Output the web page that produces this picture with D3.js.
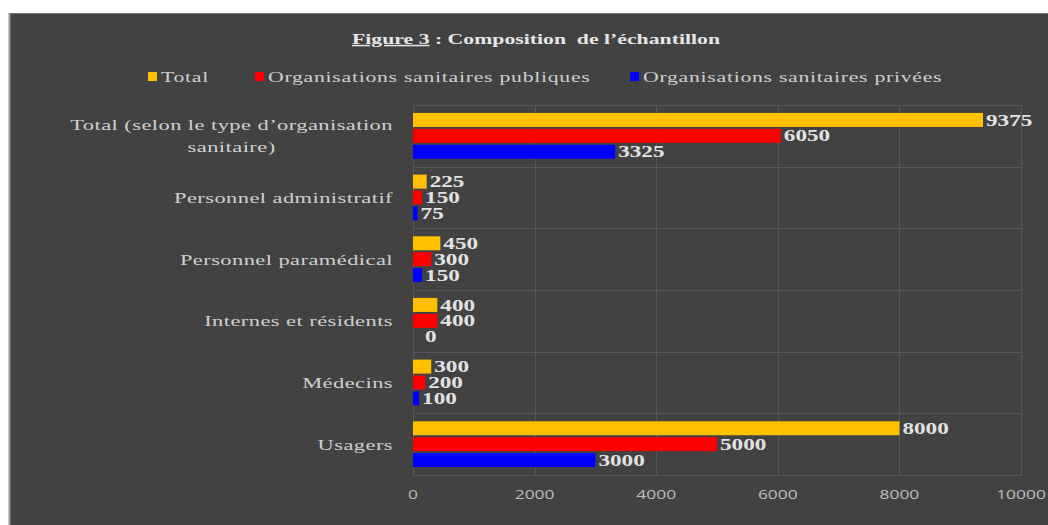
<!DOCTYPE html>
<html>
<head>
<meta charset="utf-8">
<title>Composition de l'échantillon</title>
<script src="https://cdn.jsdelivr.net/npm/d3@7"></script>
<style>
  body { margin: 0; background: #fff; }
  .serif { font-family: "Liberation Serif", "DejaVu Serif", serif; }
  .tick-label { font-family: "Open Sans", "Liberation Sans", sans-serif; font-size: 12px; fill: #bdbdbd; }
</style>
</head>
<body>
<script>
// données
var categories = ["Total (selon le type d’organisation sanitaire)", "Personnel administratif",
                  "Personnel paramédical", "Internes et résidents", "Médecins", "Usagers"];
var seriesNames = ["Total", "Organisations sanitaires publiques", "Organisations sanitaires privées"];
var totalValues = [9375, 225, 450, 400, 300, 8000];
var publicValues = [6050, 150, 300, 400, 200, 5000];
var privateValues = [3325, 75, 150, 0, 100, 3000];
var xTicks = [0, 2000, 4000, 6000, 8000, 10000];
var colors = ["#FFC000", "#FF0000", "#0000FF"];

var width = 1048, height = 525;
var stretch = 1.45;   // le texte de l'image est étiré horizontalement
var margin = {left: 413, right: 27, top: 105, bottom: 50};

var svg = d3.select("body").append("svg")
    .attr("width", width)
    .attr("height", height);

// fond du graphique
svg.append("rect").attr("x", 9).attr("y", 13).attr("width", width - 9).attr("height", height - 13)
    .attr("fill", "#424242");
svg.append("line").attr("x1", 9.5).attr("x2", 9.5).attr("y1", 13).attr("y2", height)
    .attr("stroke", "#9a9a9a").attr("stroke-width", 2);
svg.append("line").attr("x1", 9).attr("x2", width).attr("y1", 13.5).attr("y2", 13.5)
    .attr("stroke", "#777").attr("stroke-width", 1);

var series = [totalValues, publicValues, privateValues];
var rows = categories.map(function(c, i) {
    return {name: c, values: series.map(function(s) { return s[i]; })};
});

var x = d3.scaleLinear().domain([0, 10000]).range([margin.left, width - margin.right]);
var y = d3.scaleBand().domain(categories).range([margin.top, height - margin.bottom]);
var y1 = d3.scaleBand().domain(d3.range(series.length)).range([0, y.bandwidth()])
    .paddingInner(0.12).paddingOuter(0.5);

function stretched(sel, px, py) {
    return sel.attr("transform", "translate(" + px + "," + py + ") scale(" + stretch + ",1)");
}

// grille
var grid = svg.append("g").attr("stroke", "#575757").attr("stroke-width", 1);
grid.selectAll(".v").data(xTicks).enter().append("line")
    .attr("x1", function(d) { return Math.round(x(d)) + 0.5; })
    .attr("x2", function(d) { return Math.round(x(d)) + 0.5; })
    .attr("y1", margin.top).attr("y2", height - margin.bottom);
var bounds = categories.map(function(c) { return y(c); }).concat([height - margin.bottom]);
grid.selectAll(".h").data(bounds).enter().append("line")
    .attr("x1", x(0)).attr("x2", x(10000))
    .attr("y1", function(d) { return Math.round(d) + 0.5; })
    .attr("y2", function(d) { return Math.round(d) + 0.5; });

// barres
var groups = svg.selectAll(".cat").data(rows).enter().append("g")
    .attr("transform", function(d) { return "translate(0," + y(d.name) + ")"; });

groups.selectAll("rect").data(function(d) { return d.values; }).enter().append("rect")
    .attr("x", x(0))
    .attr("y", function(d, i) { return y1(i); })
    .attr("width", function(d) { return x(d) - x(0); })
    .attr("height", y1.bandwidth())
    .attr("fill", function(d, i) { return colors[i]; });

// étiquettes de valeurs
groups.selectAll("text").data(function(d) { return d.values; }).enter().append("text")
    .attr("class", "serif")
    .attr("font-size", 16).attr("font-weight", "bold").attr("fill", "#e2e2e2")
    .attr("dy", "0.35em")
    .each(function(d, i) {
        var px = d === 0 ? x(0) + 12 : x(d) + 3;
        stretched(d3.select(this), px, y1(i) + y1.bandwidth() / 2);
    })
    .text(function(d) { return d; });

// libellés des catégories (avec retour à la ligne)
var labelRight = margin.left - 20;
rows.forEach(function(r) {
    var cy = y(r.name) + y.bandwidth() / 2;
    var lines = r.name.length > 30 ? ["Total (selon le type d’organisation", "sanitaire)"] : [r.name];
    var g = svg.append("g");
    var texts = lines.map(function(l, k) {
        return g.append("text").attr("class", "serif")
            .attr("font-size", 15.5).attr("fill", "#d0d0d0")
            .attr("letter-spacing", 0.3)
            .attr("dy", "0.35em")
            .text(l);
    });
    var maxW = d3.max(texts, function(t) { return t.node().getComputedTextLength(); }) * stretch;
    texts.forEach(function(t, k) {
        var py = cy + (k - (lines.length - 1) / 2) * 22;
        if (lines.length > 1) {
            t.attr("text-anchor", "middle");
            stretched(t, labelRight - maxW / 2, py);
        } else {
            t.attr("text-anchor", "end");
            stretched(t, labelRight, py);
        }
    });
});

// axe des x
svg.selectAll(".tick-label").data(xTicks).enter().append("text")
    .attr("class", "tick-label")
    .attr("text-anchor", "middle")
    .each(function(d) { stretched(d3.select(this), x(d), height - margin.bottom + 24); })
    .text(function(d) { return d; });

// titre
var title = svg.append("text").attr("class", "serif")
    .attr("font-size", 15).attr("font-weight", "bold").attr("fill", "#e6e6e6")
    .attr("text-anchor", "middle");
stretched(title, 536, 44);
title.append("tspan").attr("text-decoration", "underline").text("Figure 3");
title.append("tspan").text(" : Composition  de l’échantillon").attr("xml:space", "preserve");

// légende
var legendX = [148, 255, 630];
var legend = svg.selectAll(".legend").data(seriesNames).enter().append("g")
    .attr("transform", function(d, i) { return "translate(" + legendX[i] + ",77)"; });
legend.append("rect").attr("x", 0).attr("y", -5).attr("width", 9).attr("height", 9)
    .attr("fill", function(d, i) { return colors[i]; });
legend.append("text").attr("class", "serif")
    .attr("font-size", 15).attr("fill", "#cfcfcf").attr("dy", "0.35em")
    .attr("letter-spacing", 0.5)
    .attr("transform", "translate(13,0) scale(" + stretch + ",1)")
    .text(function(d) { return d; });
</script>
</body>
</html>
